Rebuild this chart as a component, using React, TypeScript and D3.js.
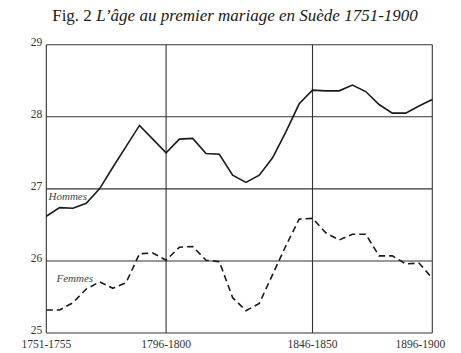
import { useEffect, useRef } from 'react';
import { select, scaleLinear, line } from 'd3';

// periods are drawn by index; the labelled grid lines sit on these indices
const periodTicks = [0, 9, 20, 29];
const periodLabels = ['1751-1755', '1796-1800', '1846-1850', '1896-1900'];
const ageTicks = [25, 26, 27, 28, 29];

const hommes = [
  26.62, 26.74, 26.73, 26.8, 27.0, 27.3, 27.59, 27.88, 27.69, 27.5,
  27.69, 27.7, 27.49, 27.48, 27.19, 27.09, 27.19, 27.43, 27.79, 28.18,
  28.37, 28.36, 28.36, 28.44, 28.35, 28.17, 28.05, 28.05, 28.15, 28.24,
];
const femmes = [
  25.32, 25.32, 25.42, 25.61, 25.71, 25.62, 25.7, 26.1, 26.11, 26.01,
  26.19, 26.2, 26.01, 25.99, 25.49, 25.31, 25.41, 25.81, 26.21, 26.58,
  26.59, 26.39, 26.29, 26.37, 26.37, 26.07, 26.07, 25.96, 25.97, 25.76,
];

const App = () => {
  const ref = useRef<SVGSVGElement>(null);

  useEffect(() => {
    const width = 461;
    const height = 353;
    const margin = { top: 44.7, right: 28.7, bottom: 20, left: 46.3 };

    const svg = select(ref.current);
    svg.selectAll('*').remove();
    svg.attr('width', width).attr('height', height);

    svg.append('rect').attr('width', width).attr('height', height).attr('fill', '#fff');

    const x = scaleLinear()
      .domain([0, hommes.length - 1])
      .range([margin.left, width - margin.right]);
    const y = scaleLinear()
      .domain([25, 29])
      .range([height - margin.bottom, margin.top]);

    const font = '"Liberation Serif", "DejaVu Serif", serif';

    // title
    const title = svg
      .append('text')
      .attr('x', 235)
      .attr('y', 21)
      .attr('text-anchor', 'middle')
      .attr('font-family', font)
      .attr('font-size', '17px')
      .attr('fill', '#1a1a1a');
    title.append('tspan').text('Fig. 2 ');
    title
      .append('tspan')
      .attr('font-style', 'italic')
      .text('L\u2019âge au premier mariage en Suède 1751-1900');

    const g = svg.append('g');

    // horizontal grid
    g.selectAll('line.h')
      .data(ageTicks)
      .enter()
      .append('line')
      .attr('x1', x(0))
      .attr('x2', x(hommes.length - 1))
      .attr('y1', (d) => y(d))
      .attr('y2', (d) => y(d))
      .attr('stroke', '#333')
      .attr('stroke-width', 1.1);

    // vertical grid
    g.selectAll('line.v')
      .data(periodTicks)
      .enter()
      .append('line')
      .attr('x1', (d) => x(d))
      .attr('x2', (d) => x(d))
      .attr('y1', y(29))
      .attr('y2', y(25))
      .attr('stroke', '#333')
      .attr('stroke-width', 1.1);

    // y labels
    g.selectAll('text.yl')
      .data(ageTicks)
      .enter()
      .append('text')
      .attr('x', x(0) - 4)
      .attr('y', (d) => y(d) - 3)
      .attr('dy', '0.35em')
      .attr('text-anchor', 'end')
      .attr('font-family', font)
      .attr('font-size', '11.5px')
      .attr('fill', '#333')
      .text((d) => d);

    // x labels
    g.selectAll('text.xl')
      .data(periodTicks)
      .enter()
      .append('text')
      .attr('x', (d, i) => (i === periodTicks.length - 1 ? x(d) + 13 : x(d)))
      .attr('y', height - 5.5)
      .attr('text-anchor', (d, i) => (i === periodTicks.length - 1 ? 'end' : 'middle'))
      .attr('font-family', font)
      .attr('font-size', '11.5px')
      .attr('fill', '#333')
      .text((d, i) => periodLabels[i]);

    const lineGen = line<number>()
      .x((d, i) => x(i))
      .y((d) => y(d));

    g.append('path')
      .attr('d', lineGen(hommes))
      .attr('fill', 'none')
      .attr('stroke', '#1a1a1a')
      .attr('stroke-width', 1.6);

    g.append('path')
      .attr('d', lineGen(femmes))
      .attr('fill', 'none')
      .attr('stroke', '#1a1a1a')
      .attr('stroke-width', 1.6)
      .attr('stroke-dasharray', '6.5,4');

    // series names
    g.append('text')
      .attr('x', 48.5)
      .attr('y', 199.5)
      .attr('font-family', font)
      .attr('font-style', 'italic')
      .attr('font-size', '11px')
      .attr('fill', '#444')
      .text('Hommes');

    g.append('text')
      .attr('x', 56.5)
      .attr('y', 282)
      .attr('font-family', font)
      .attr('font-style', 'italic')
      .attr('font-size', '11px')
      .attr('fill', '#444')
      .text('Femmes');
  }, []);

  return (
    <svg ref={ref} style={{ position: 'absolute', left: 0, top: 0, display: 'block' }}></svg>
  );
};

export default App;
